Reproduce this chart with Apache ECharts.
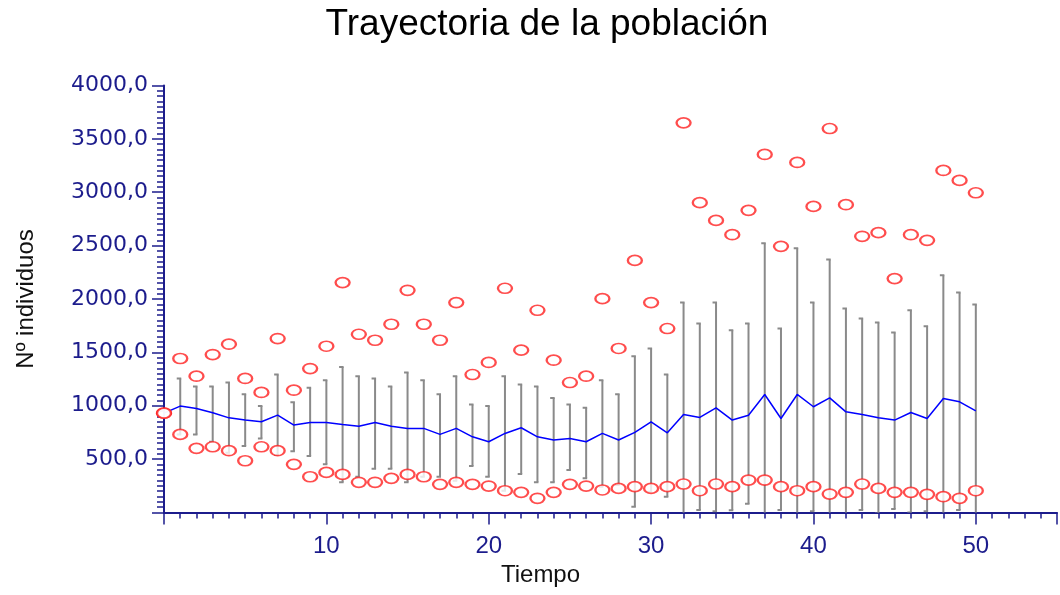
<!DOCTYPE html>
<html><head><meta charset="utf-8">
<script src="https://cdn.jsdelivr.net/npm/echarts@6/dist/echarts.min.js"></script>
<style>html,body{margin:0;padding:0;background:#fff}#c{width:1060px;height:595px}</style>
</head><body><div id="c"></div>
<script>
// Time steps
const tiempo = [0,1,2,3,4,5,6,7,8,9,10,11,12,13,14,15,16,17,18,19,20,21,22,23,24,25,26,27,28,29,30,31,32,33,34,35,36,37,38,39,40,41,42,43,44,45,46,47,48,49,50];
// Mean trajectory (blue line)
const media = [930,996,974,933,886,865,849,911,818,843,843,824,808,843,808,787,787,731,787,708,662,740,793,708,678,693,662,740,678,750,849,746,918,890,980,865,911,1105,880,1105,990,1073,942,918,886,865,936,880,1067,1036,952];
// Error bar upper / lower ends (grey)
const barraSup = [null,1255,1180,1180,1217,1108,996,1292,1033,1167,1239,1363,1276,1255,1180,1311,1239,1108,1276,1012,996,1276,1199,1180,1073,1012,980,1239,1108,1464,1536,1292,1966,1769,1966,1707,1769,2521,1723,2474,1966,2370,1910,1816,1779,1685,1894,1744,2222,2060,1947];
const barraInf = [null,731,731,662,559,621,693,537,574,528,450,282,334,409,409,282,334,334,297,434,334,203,359,282,282,397,319,241,256,53,194,147,-130,22,10,20,80,-311,22,-264,10,-224,-26,22,-7,32,0,10,-88,22,-43];
// Maximum and minimum (red markers)
const maximo = [930,1442,1276,1479,1576,1255,1124,1629,1145,1348,1557,2153,1669,1613,1763,2081,1763,1613,1966,1292,1405,2100,1520,1894,1426,1217,1276,2003,1536,2361,1966,1723,3650,2902,2736,2602,2830,3354,2493,3279,2867,3597,2883,2587,2621,2191,2602,2549,3204,3111,2995];
const minimo = [930,731,600,615,578,484,615,578,450,334,375,356,282,282,319,356,334,263,282,263,247,203,188,132,188,263,247,210,225,241,225,241,266,203,266,241,303,303,241,203,241,172,188,266,225,188,188,169,147,132,203];
const yTicks = [0,500,1000,1500,2000,2500,3000,3500,4000];

const navy = '#1c1c8c';
const chart = echarts.init(document.getElementById('c'), null, {renderer:'canvas'});

const barData = tiempo.map((t,i)=>[t, barraInf[i], barraSup[i]]).filter(d=>d[2]!==null);

chart.setOption({
  animation:false,
  backgroundColor:'#fff',
  title:{text:'Trayectoria de la población', left:542, top:1, textAlign:'center',
    textStyle:{fontFamily:'Liberation Sans', fontSize:37, fontWeight:'normal', color:'#000'}},
  grid:{left:164, top:85.5, right:-2, bottom:82.6, containLabel:false},
  xAxis:[{
    type:'value', min:0, max:55, interval:1,
    axisLine:{show:true, lineStyle:{color:navy, width:2}},
    axisTick:{show:true, length:6, lineStyle:{color:navy, width:1.5}},
    axisLabel:{show:false}, splitLine:{show:false}
  },{
    type:'value', min:0, max:55, interval:10, position:'bottom',
    name:'Tiempo', nameLocation:'middle', nameGap:46,
    nameTextStyle:{fontFamily:'Liberation Sans', fontSize:24, color:'#111', padding:[0,140,0,0]},
    axisLine:{show:false},
    axisTick:{show:true, length:12, lineStyle:{color:navy, width:1.5}},
    axisLabel:{show:true, margin:22, fontFamily:'Liberation Sans', fontSize:24, color:navy,
      formatter:v => (v>0 && v%10===0 && v<=50) ? String(v) : ''},
    splitLine:{show:false}
  }],
  yAxis:{
    type:'value', min:yTicks[0], max:yTicks[yTicks.length-1], interval:500,
    name:'Nº individuos', nameLocation:'middle', nameGap:126, nameRotate:90,
    nameTextStyle:{fontFamily:'Liberation Sans', fontSize:24, color:'#111'},
    axisLine:{show:true, lineStyle:{color:navy, width:2}},
    axisTick:{show:true, length:12, lineStyle:{color:navy, width:1.5}},
    minorTick:{show:true, splitNumber:10, length:7, lineStyle:{color:navy, width:1.5}},
    axisLabel:{margin:16, fontFamily:'DejaVu Sans', fontSize:22, color:navy,
      formatter:v => v===0 ? '' : v.toFixed(1).replace('.', ',')},
    splitLine:{show:false}
  },
  series:[
    {
      type:'custom', name:'barras', xAxisIndex:0, clip:true, z:1,
      data:barData,
      encode:{x:0, y:[1,2]},
      renderItem:(params, api)=>{
        const t = api.value(0), lo = api.value(1), hi = api.value(2);
        const p1 = api.coord([t, hi]), p2 = api.coord([t, lo]);
        const st = {stroke:'#8a8a8a', lineWidth:2};
        return {type:'group', children:[
          {type:'line', shape:{x1:p1[0], y1:p1[1], x2:p2[0], y2:p2[1]}, style:st},
          {type:'line', shape:{x1:p1[0]-3.5, y1:p1[1], x2:p1[0]+1, y2:p1[1]}, style:st},
          {type:'line', shape:{x1:p2[0]-3.5, y1:p2[1], x2:p2[0]+1, y2:p2[1]}, style:st}
        ]};
      }
    },
    {
      type:'line', name:'media', xAxisIndex:0, z:3,
      data:tiempo.map((t,i)=>[t, media[i]]),
      showSymbol:false, symbol:'none',
      lineStyle:{color:'#0000ff', width:1.5}
    },
    {
      type:'scatter', name:'max', xAxisIndex:0, z:4,
      data:tiempo.map((t,i)=>[t, maximo[i]]),
      symbol:'emptyCircle', symbolSize:[14,10],
      itemStyle:{color:'#ff2020', borderWidth:1.5, borderColor:'#ff2020'}
    },
    {
      type:'scatter', name:'min', xAxisIndex:0, z:4,
      data:tiempo.map((t,i)=>[t, minimo[i]]),
      symbol:'emptyCircle', symbolSize:[14,10],
      itemStyle:{color:'#ff2020', borderWidth:1.5, borderColor:'#ff2020'}
    }
  ]
});
</script>
</body></html>
